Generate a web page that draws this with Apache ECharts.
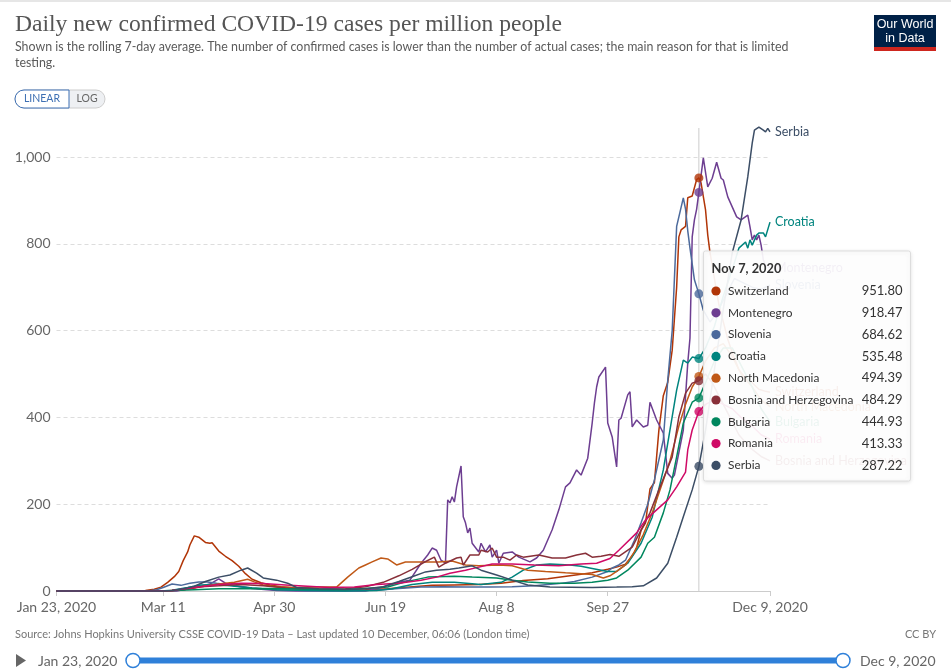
<!DOCTYPE html>
<html><head><meta charset="utf-8">
<script src="https://cdn.jsdelivr.net/npm/echarts@6/dist/echarts.min.js"></script>
<style>html,body{margin:0;padding:0;background:#fff;}#c{width:951px;height:669px;}</style>
</head><body><div id="c"></div>
<script>
// ---------------- DATA ----------------
const yearStart = "01-23";
const hoverDate = "11-07";
const hoverLabel = "Nov 7, 2020";
const xTickDates = ["01-23","03-11","04-30","06-19","08-08","09-27","12-09"];
const xTickLabels = ["Jan 23, 2020","Mar 11","Apr 30","Jun 19","Aug 8","Sep 27","Dec 9, 2020"];
const yTicks = [0,200,400,600,800,1000];
const countries = ["Switzerland","Montenegro","Slovenia","Croatia","North Macedonia","Bosnia and Herzegovina","Bulgaria","Romania","Serbia"];
const colors = ["#B13507","#6D3E91","#4C6A9C","#00847E","#C05917","#883039","#00875E","#CF0A66","#3C4E66"];

const switzerland = [["01-23",0],["02-28",0],["03-03",1],["03-07",4],["03-10",9],["03-13",20],["03-16",33],["03-18",45],["03-20",70],["03-22",90],["03-23",106],["03-25",127],["03-27",124],["03-28",120],["03-30",112],["04-01",110],["04-02",111],["04-05",92],["04-08",80],["04-11",70],["04-14",57],["04-17",40],["04-20",27],["04-24",19],["04-28",14],["05-03",10],["05-10",6],["05-20",3],["05-30",2],["06-10",3],["06-20",5],["06-30",9],["07-10",13],["07-20",14],["07-31",15],["08-10",18],["08-20",24],["08-31",28],["09-10",35],["09-20",42],["09-27",50],["10-01",55],["10-05",62],["10-08",80],["10-10",100],["10-12",140],["10-14",157],["10-16",235],["10-18",250],["10-20",370],["10-22",450],["10-24",481],["10-26",555],["10-28",700],["10-29",816],["10-30",832],["11-01",840],["11-02",906],["11-04",910],["11-06",948],["11-07",951.80],["11-08",940],["11-10",878],["11-11",820],["11-12",780],["11-14",720],["11-16",660],["11-18",620],["11-20",580],["11-22",550],["11-25",510],["11-28",490],["12-01",480],["12-04",465],["12-07",460],["12-09",458]];

const montenegro = [["01-23",0],["03-17",0],["03-20",3],["03-27",10],["04-01",16],["04-05",28],["04-08",18],["04-12",12],["04-20",6],["05-01",1],["05-10",0],["06-10",0],["06-15",5],["06-20",12],["06-25",20],["06-30",25],["07-05",64],["07-08",83],["07-10",99],["07-12",94],["07-14",71],["07-16",64],["07-17",210],["07-18",203],["07-19",217],["07-20",205],["07-21",240],["07-23",288],["07-24",171],["07-25",157],["07-26",134],["07-27",145],["07-28",110],["07-31",90],["08-01",110],["08-03",90],["08-05",106],["08-06",78],["08-08",94],["08-09",64],["08-11",87],["08-15",90],["08-18",78],["08-23",67],["08-26",76],["08-29",94],["09-02",141],["09-05",187],["09-08",240],["09-10",249],["09-13",279],["09-15",267],["09-18",306],["09-20",387],["09-21",433],["09-22",470],["09-23",493],["09-26",516],["09-27",387],["09-29",355],["10-01",286],["10-02",394],["10-03",398],["10-06",452],["10-07",459],["10-08",378],["10-10",394],["10-13",378],["10-15",382],["10-16",435],["10-19",394],["10-22",364],["10-24",271],["10-26",260],["10-27",267],["10-31",371],["11-02",525],["11-03",583],["11-04",816],["11-05",855],["11-06",880],["11-07",918.47],["11-09",998],["11-11",931],["11-13",951],["11-15",988],["11-17",951],["11-18",947],["11-20",908],["11-22",885],["11-24",862],["11-26",855],["11-29",866],["11-30",839],["12-01",809],["12-02",820],["12-03",809],["12-04",820],["12-05",797],["12-06",763],["12-07",750],["12-09",745]];

const slovenia = [["01-23",0],["03-04",0],["03-08",3],["03-11",8],["03-15",16],["03-19",13],["03-23",18],["03-27",21],["03-31",21],["04-04",18],["04-10",14],["04-20",7],["05-01",3],["05-15",1],["06-01",1],["06-15",2],["06-25",6],["07-05",9],["07-15",10],["07-25",9],["08-05",9],["08-15",10],["08-25",12],["09-05",17],["09-12",22],["09-20",32],["09-27",45],["09-29",53],["10-02",60],["10-05",71],["10-09",117],["10-12",157],["10-15",200],["10-18",256],["10-22",348],["10-24",486],["10-26",600],["10-28",840],["10-31",906],["11-01",880],["11-02",830],["11-03",790],["11-05",717],["11-07",684.62],["11-09",647],["11-12",620],["11-15",640],["11-19",680],["11-23",720],["11-27",710],["12-01",700],["12-05",695],["12-09",705]];

const croatia = [["01-23",0],["03-10",0],["03-15",2],["03-22",8],["03-28",14],["04-03",15],["04-10",12],["04-20",7],["05-01",3],["05-15",1],["06-01",0],["06-15",1],["06-22",5],["07-01",15],["07-10",20],["07-20",20],["08-01",15],["08-10",20],["08-15",32],["08-20",48],["08-26",60],["09-01",62],["09-10",60],["09-15",57],["09-20",52],["09-27",45],["10-01",45],["10-06",64],["10-12",110],["10-17",170],["10-22",279],["10-25",371],["10-28",463],["10-31",532],["11-02",525],["11-04",539],["11-07",535.48],["11-10",560],["11-14",610],["11-18",680],["11-22",740],["11-25",790],["11-28",804],["11-29",790],["11-30",809],["12-01",797],["12-03",820],["12-04",825],["12-06",825],["12-07",816],["12-09",850]];

const northMacedonia = [["01-23",0],["03-12",0],["03-20",3],["03-28",10],["04-05",16],["04-12",20],["04-18",27],["04-21",21],["04-25",14],["05-01",10],["05-10",8],["05-20",9],["05-28",9],["06-02",32],["06-07",53],["06-10",60],["06-13",67],["06-17",76],["06-20",74],["06-24",60],["06-28",67],["07-04",67],["07-13",67],["07-19",69],["07-25",60],["07-31",58],["08-09",60],["08-15",58],["08-22",48],["08-30",45],["09-08",42],["09-15",40],["09-20",38],["09-25",30],["09-28",35],["10-01",45],["10-05",60],["10-09",90],["10-13",130],["10-17",180],["10-21",240],["10-25",300],["10-29",380],["11-01",430],["11-04",470],["11-07",494.39],["11-10",530],["11-14",560],["11-18",570],["11-22",540],["11-26",500],["12-01",470],["12-05",440],["12-09",425]];

const bosnia = [["01-23",0],["03-12",0],["03-20",3],["03-28",10],["04-05",12],["04-15",15],["04-25",12],["05-05",7],["05-15",4],["06-01",5],["06-10",10],["06-18",20],["06-25",35],["07-01",50],["07-06",65],["07-11",78],["07-13",55],["07-16",64],["07-21",76],["07-23",78],["07-24",60],["07-27",83],["07-31",83],["08-01",94],["08-04",90],["08-06",99],["08-08",78],["08-11",78],["08-14",71],["08-17",83],["08-20",78],["08-27",83],["09-02",76],["09-08",76],["09-13",83],["09-17",87],["09-20",78],["09-24",80],["09-28",84],["10-02",80],["10-08",101],["10-16",180],["10-20",233],["10-26",309],["10-29",401],["11-01",456],["11-04",479],["11-07",484.29],["11-10",500],["11-13",480],["11-17",440],["11-21",400],["11-25",360],["11-30",330],["12-05",310],["12-09",300]];

const bulgaria = [["01-23",0],["03-08",0],["03-15",1],["03-25",3],["04-05",5],["04-15",5],["04-25",6],["05-05",5],["05-15",4],["06-01",3],["06-10",6],["06-20",9],["06-28",21],["07-08",32],["07-20",34],["07-28",32],["08-08",30],["08-15",25],["08-22",21],["09-01",18],["09-12",18],["09-20",20],["09-27",25],["10-01",30],["10-06",48],["10-12",78],["10-15",110],["10-18",124],["10-22",180],["10-25",233],["10-28",309],["10-31",387],["11-04",435],["11-07",444.93],["11-10",480],["11-14",530],["11-18",560],["11-22",560],["11-26",520],["12-01",470],["12-05",420],["12-09",390]];

const romania = [["01-23",0],["03-05",0],["03-15",1],["03-25",8],["04-05",15],["04-15",18],["04-25",17],["05-05",14],["05-15",11],["05-25",8],["06-05",9],["06-15",15],["06-25",18],["07-05",25],["07-12",32],["07-18",41],["07-25",48],["07-31",55],["08-06",62],["08-15",62],["08-25",60],["09-05",58],["09-15",62],["09-22",64],["09-28",75],["10-02",94],["10-10",134],["10-14",164],["10-19",187],["10-24",210],["10-28",240],["11-01",274],["11-02",325],["11-04",371],["11-07",413.33],["11-10",430],["11-14",440],["11-18",430],["11-22",420],["11-26",400],["12-01",380],["12-05",360],["12-09",350]];

const serbia = [["01-23",0],["03-10",0],["03-15",1],["03-20",5],["03-25",11],["03-30",22],["04-05",32],["04-10",37],["04-15",48],["04-18",53],["04-22",41],["04-25",30],["05-01",25],["05-06",18],["05-10",8],["05-20",5],["06-01",4],["06-10",5],["06-18",10],["06-25",22],["07-01",33],["07-07",44],["07-12",48],["07-18",50],["07-22",53],["07-28",58],["08-01",48],["08-08",37],["08-15",25],["08-22",14],["09-01",9],["09-20",8],["10-01",9],["10-08",10],["10-13",12],["10-19",30],["10-24",64],["10-28",124],["10-31",171],["11-04",233],["11-07",287.22],["11-10",370],["11-14",510],["11-18",650],["11-22",779],["11-26",855],["11-29",954],["12-01",1032],["12-02",1062],["12-04",1069],["12-06",1062],["12-07",1058],["12-08",1066],["12-09",1058]];

const seriesData = [switzerland, montenegro, slovenia, croatia, northMacedonia, bosnia, bulgaria, romania, serbia];

const titleText = "Daily new confirmed COVID-19 cases per million people";
const subtitleLines = ["Shown is the rolling 7-day average. The number of confirmed cases is lower than the number of actual cases; the main reason for that is limited","testing."];
const sourceText = "Source: Johns Hopkins University CSSE COVID-19 Data – Last updated 10 December, 06:06 (London time)";

// ---------------- BUILD ----------------
function dayOf(md){const p=md.split('-').map(Number);const s=yearStart.split('-').map(Number);return (Date.UTC(2020,p[0]-1,p[1])-Date.UTC(2020,s[0]-1,s[1]))/86400000;}
const tickDays = xTickDates.map(dayOf);
const maxDay = dayOf(xTickDates[xTickDates.length-1]);
const hoverDay = dayOf(hoverDate);
const FONT = 'Lato, "Noto Sans", sans-serif';

const chart = echarts.init(document.getElementById('c'), null, {renderer:'canvas'});

const lineSeries = countries.map((name,i)=>({
  name, type:'line', z:2,
  data: seriesData[i].map(([d,v])=>[dayOf(d),v]),
  showSymbol:false, symbol:'none', clip:false, animation:false,
  lineStyle:{width:1.5,color:colors[i]}, itemStyle:{color:colors[i]},
  emphasis:{disabled:true},
  endLabel:{show:true, formatter:()=>name, color:colors[i], fontFamily:FONT, fontSize:12.5, distance:5},
  labelLayout:{moveOverlap:'shiftY'}
}));

const hoverVals = seriesData.map(s=>{const e=s.find(p=>p[0]===hoverDate);return e?e[1]:null;});
const dotSeries = {
  type:'scatter', z:5, animation:false, symbolSize:9, clip:false,
  data: hoverVals.map((v,i)=>({value:[hoverDay,v], itemStyle:{color:colors[i]}})),
  emphasis:{disabled:true}
};

chart.setOption({
  animation:false,
  grid:{left:56.5, right:181, top:157, bottom:78, containLabel:false},
  xAxis:{type:'value', min:0, max:maxDay,
    axisLine:{show:true, lineStyle:{color:'#ccc'}},
    axisTick:{show:true, customValues:tickDays, length:5, lineStyle:{color:'#ccc'}},
    splitLine:{show:false},
    axisLabel:{customValues:tickDays, formatter:(v)=>{const k=tickDays.indexOf(Math.round(v));return k>=0?xTickLabels[k]:'';},
      color:'#666', fontFamily:FONT, fontSize:14, margin:9, hideOverlap:false, showMinLabel:true, showMaxLabel:true}
  },
  yAxis:{type:'value', min:yTicks[0], max:yTicks[yTicks.length-1], interval:200,
    axisLine:{show:false}, axisTick:{show:false},
    splitLine:{show:true, lineStyle:{color:'#ddd', type:[4,3]}},
    axisLabel:{color:'#666', fontFamily:FONT, fontSize:14, margin:6, formatter:(v)=>v.toLocaleString('en-US')}
  },
  series:[...lineSeries, dotSeries]
});

// crosshair + tooltip + chrome
const hx = chart.convertToPixel({gridIndex:0},[hoverDay,0])[0];
const y0 = chart.convertToPixel({gridIndex:0},[0,0])[1];
const order = hoverVals.map((v,i)=>i).sort((a,b)=>hoverVals[b]-hoverVals[a]);
const tipX=703.5, tipY=251, tipW=207, tipH=230;
const TZ = {zlevel:5, z:200};
const tipEls = [
  Object.assign({type:'rect', shape:{x:tipX,y:tipY,width:tipW,height:tipH,r:2}, style:{fill:'rgba(255,255,255,0.92)', stroke:'#ddd', lineWidth:1, shadowBlur:4, shadowColor:'rgba(0,0,0,0.12)', shadowOffsetY:1}}, TZ),
  Object.assign({type:'text', x:tipX+8, y:tipY+11, style:{text:hoverLabel, font:'bold 12.8px '+FONT, fill:'#333'}}, TZ)
];
order.forEach((i,r)=>{
  const cy = tipY + 40 + r*21.8;
  tipEls.push(Object.assign({type:'circle', shape:{cx:tipX+12.5, cy:cy, r:4.6}, style:{fill:colors[i]}}, TZ));
  tipEls.push(Object.assign({type:'text', x:tipX+24.5, y:cy, style:{text:countries[i], font:'11.9px '+FONT, fill:'#333', verticalAlign:'middle'}}, TZ));
  tipEls.push(Object.assign({type:'text', x:tipX+199, y:cy, style:{text:hoverVals[i].toFixed(2), font:'13px '+FONT, fill:'#333', align:'right', verticalAlign:'middle'}}, TZ));
});

chart.setOption({graphic:[
  {type:'rect', shape:{x:0,y:0,width:951,height:2}, style:{fill:'#e6e6e6'}},
  {type:'line', z:1, shape:{x1:hx,y1:128,x2:hx,y2:y0}, style:{stroke:'#ccc', lineWidth:1}},
  {type:'text', x:15, y:13, style:{text:titleText, font:'23.6px "Liberation Serif", "DejaVu Serif", serif', fill:'#555'}},
  {type:'text', x:15, y:41, style:{text:subtitleLines[0], font:'12.4px '+FONT, fill:'#5b5b5b'}},
  {type:'text', x:15, y:57, style:{text:subtitleLines[1], font:'12.4px '+FONT, fill:'#5b5b5b'}},
  // LINEAR / LOG toggle
  {type:'rect', shape:{x:15,y:90,width:90,height:18,r:9}, style:{fill:'#eef0f3', stroke:'#ccc', lineWidth:1}},
  {type:'rect', shape:{x:15,y:90,width:54,height:18,r:[9,0,0,9]}, style:{fill:'#fff', stroke:'#3d6fb3', lineWidth:1}},
  {type:'text', x:42, y:99, style:{text:'LINEAR', font:'10.5px '+FONT, fill:'#3d6fb3', align:'center', verticalAlign:'middle'}},
  {type:'text', x:87, y:99, style:{text:'LOG', font:'10.5px '+FONT, fill:'#666', align:'center', verticalAlign:'middle'}},
  // logo
  {type:'rect', shape:{x:874,y:15,width:62,height:33}, style:{fill:'#002147'}},
  {type:'rect', shape:{x:874,y:47,width:62,height:4}, style:{fill:'#ce261e'}},
  {type:'text', x:905, y:25, style:{text:'Our World', font:'12.5px "Liberation Sans Narrow", "Liberation Sans", sans-serif', fill:'#fff', align:'center', verticalAlign:'middle'}},
  {type:'text', x:905, y:39, style:{text:'in Data', font:'12.5px "Liberation Sans Narrow", "Liberation Sans", sans-serif', fill:'#fff', align:'center', verticalAlign:'middle'}},
  // tooltip
  ...tipEls,
  // footer
  {type:'text', x:15, y:634, style:{text:sourceText, font:'11px '+FONT, fill:'#777', verticalAlign:'middle'}},
  {type:'text', x:936, y:634, style:{text:'CC BY', font:'11px '+FONT, fill:'#777', align:'right', verticalAlign:'middle'}},
  // timeline
  {type:'polygon', shape:{points:[[16,654],[16,667],[26,660.5]]}, style:{fill:'#666'}},
  {type:'text', x:38, y:661, style:{text:xTickLabels[0], font:'14px '+FONT, fill:'#666', verticalAlign:'middle'}},
  {type:'rect', shape:{x:133,y:657.5,width:710,height:6,r:3}, style:{fill:'#2f80d9'}},
  {type:'circle', shape:{cx:133,cy:660.5,r:7}, style:{fill:'#fff', stroke:'#2f80d9', lineWidth:1.5}},
  {type:'circle', shape:{cx:843,cy:660.5,r:7}, style:{fill:'#fff', stroke:'#2f80d9', lineWidth:1.5}},
  {type:'text', x:860, y:661, style:{text:xTickLabels[xTickLabels.length-1], font:'14px '+FONT, fill:'#666', verticalAlign:'middle'}}
]});
</script></body></html>
